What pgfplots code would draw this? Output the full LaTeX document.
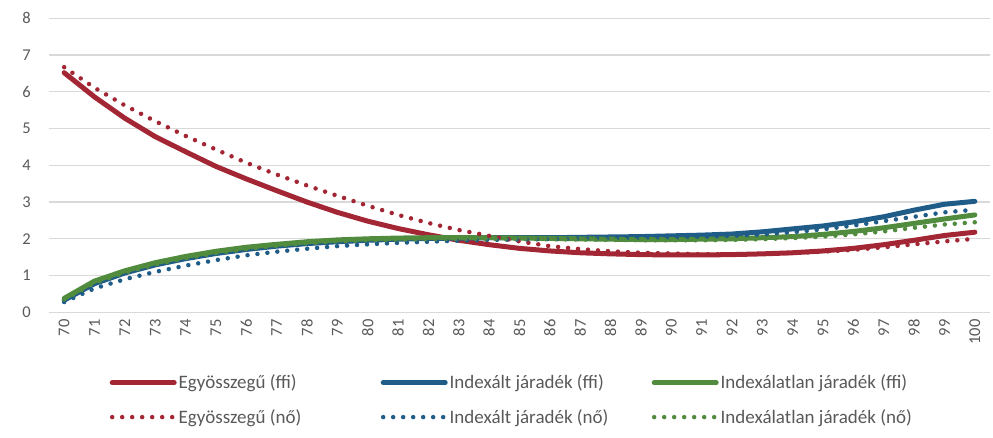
\documentclass[border=0pt]{standalone}
\usepackage{pgfplots}
\pgfplotsset{compat=1.18}
\usepackage{pgfplotstable}
\usepackage{fontspec}
\setmainfont{Carlito}

\definecolor{cred}{RGB}{163,38,52}
\definecolor{cblue}{RGB}{31,92,136}
\definecolor{cgreen}{RGB}{80,139,62}
\definecolor{cgrid}{RGB}{217,217,217}
\definecolor{ctext}{RGB}{89,89,89}

% age, lump sum (m/f), indexed annuity (m/f), non-indexed annuity (m/f)
\pgfplotstableread{
age  ef    if    uf    en    in    un
70   6.52  0.33  0.38  6.67  0.28  0.35
71   5.86  0.78  0.85  6.11  0.65  0.80
72   5.28  1.07  1.13  5.63  0.90  1.08
73   4.78  1.29  1.35  5.20  1.10  1.30
74   4.37  1.46  1.52  4.80  1.27  1.47
75   3.97  1.60  1.66  4.43  1.42  1.61
76   3.63  1.71  1.77  4.07  1.55  1.72
77   3.31  1.80  1.85  3.75  1.65  1.81
78   3.00  1.87  1.92  3.45  1.73  1.88
79   2.72  1.92  1.97  3.17  1.80  1.93
80   2.48  1.96  2.00  2.90  1.85  1.96
81   2.28  1.99  2.02  2.65  1.89  1.98
82   2.11  2.01  2.03  2.43  1.92  1.99
83   1.96  2.02  2.03  2.24  1.95  2.00
84   1.84  2.03  2.03  2.08  1.97  2.00
85   1.74  2.03  2.02  1.93  1.98  2.00
86   1.67  2.03  2.01  1.80  1.99  1.99
87   1.62  2.04  2.00  1.72  2.00  1.98
88   1.59  2.05  1.99  1.66  2.01  1.97
89   1.57  2.06  1.98  1.62  2.02  1.96
90   1.56  2.08  1.98  1.60  2.03  1.96
91   1.56  2.10  1.99  1.58  2.05  1.96
92   1.57  2.13  2.00  1.58  2.08  1.97
93   1.59  2.19  2.03  1.59  2.12  1.99
94   1.62  2.27  2.06  1.61  2.18  2.02
95   1.67  2.35  2.12  1.65  2.26  2.06
96   1.74  2.46  2.20  1.70  2.36  2.12
97   1.84  2.60  2.30  1.77  2.48  2.20
98   1.96  2.78  2.42  1.85  2.60  2.30
99   2.09  2.94  2.54  1.93  2.72  2.39
100  2.18  3.02  2.65  2.00  2.79  2.45
}\data

\begin{document}
\begin{tikzpicture}
\begin{axis}[
  name=ax,
  scale only axis,
  width=941pt, height=294pt,
  xmin=69.5, xmax=100.5,
  ymin=0, ymax=8,
  xtick={70,...,100},
  ytick={0,...,8},
  ymajorgrids,
  grid style={cgrid, line width=1.3pt},
  axis line style={draw=none},
  major tick length=0pt,
  tick label style={font=\fontsize{16.5}{19}\selectfont, text=ctext},
  /pgf/number format/assume math mode=true,
  xticklabel style={rotate=90, anchor=east, inner sep=0pt},
  xticklabel shift=7pt,
  yticklabel style={anchor=east, inner sep=0pt},
  yticklabel shift=18pt,
  legend columns=3,
  legend cell align=left,
  legend image code/.code={\draw[#1] (0pt,0pt) -- (62pt,0pt);},
  legend style={
    at={(0.4965,-0.298)}, anchor=center, draw=none, fill=none,
    font=\fontsize{19}{22}\selectfont, text=ctext,
    row sep=17pt, column sep=0pt,
    nodes={inner xsep=2pt, inner ysep=1pt},
  },
  solid/.style={line width=5pt, line join=round, line cap=round},
  dots/.style={line width=4.5pt, line cap=round, dash pattern=on 0pt off 10pt},
]
\addplot[cred, solid] table[x=age, y=ef] {\data};
\addlegendentry{\makebox[200pt][l]{Egyösszegű (ffi)}}
\addplot[cblue, solid] table[x=age, y=if] {\data};
\addlegendentry{\makebox[200pt][l]{Indexált járadék (ffi)}}
\addplot[cgreen, solid] table[x=age, y=uf] {\data};
\addlegendentry{\makebox[200pt][l]{Indexálatlan járadék (ffi)}}
\addplot[cred, dots] table[x=age, y=en] {\data};
\addlegendentry{\makebox[200pt][l]{Egyösszegű (nő)}}
\addplot[cblue, dots] table[x=age, y=in] {\data};
\addlegendentry{\makebox[200pt][l]{Indexált járadék (nő)}}
\addplot[cgreen, dots] table[x=age, y=un] {\data};
\addlegendentry{\makebox[200pt][l]{Indexálatlan járadék (nő)}}
\end{axis}
% page frame around the plot area
\path (ax.south west) ++(-49pt,-124.7pt) rectangle ++(993pt,437pt);
\end{tikzpicture}
\end{document}
